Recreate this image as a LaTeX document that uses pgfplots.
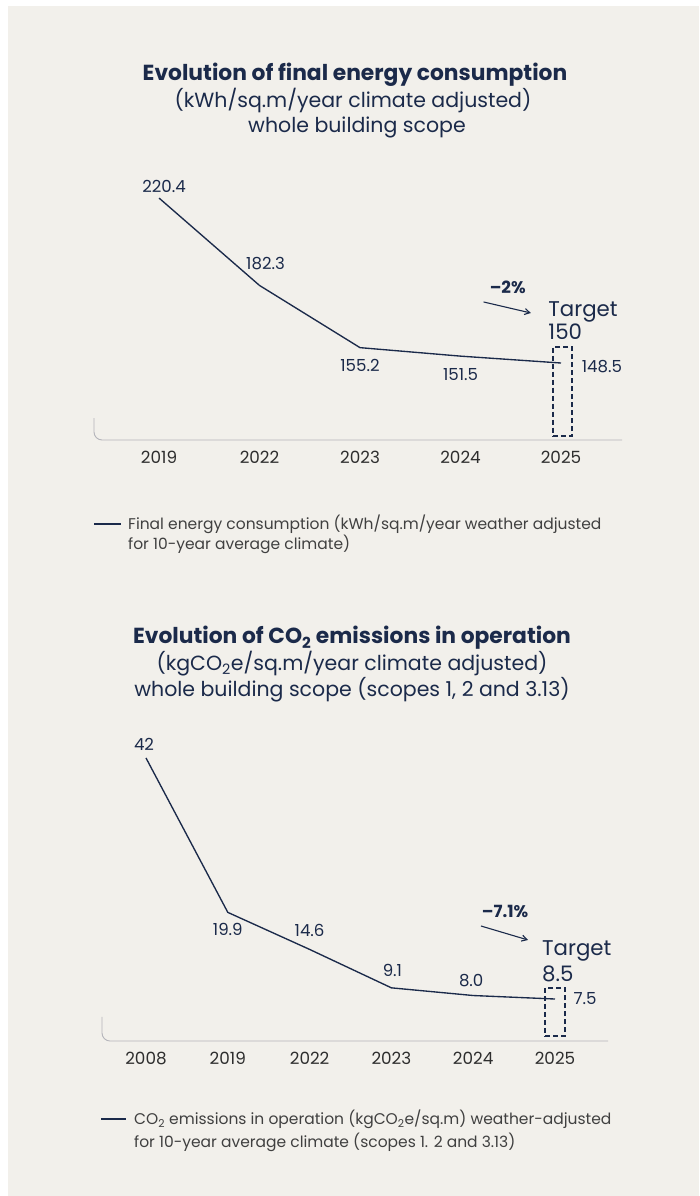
\documentclass[border=0pt]{standalone}
\usepackage{fontspec}
\setmainfont{Poppins}
\usepackage{pgfplots}
\pgfplotsset{compat=1.18}
\usetikzlibrary{arrows.meta}
\definecolor{bg}{HTML}{F2F0EB}
\definecolor{navy}{HTML}{1B2A4A}
\definecolor{ticktxt}{HTML}{2E2E2E}
\definecolor{legtxt}{HTML}{404040}
\definecolor{axgray}{HTML}{B4B4BA}
\newcommand{\fs}[1]{\fontsize{#1}{#1}\selectfont}
\begin{document}
\begin{tikzpicture}[x=1pt,y=1pt]
\fill[white] (0,0) rectangle (699,-1196);
\useasboundingbox (0,0) rectangle (699,-1196);
\fill[bg] (8,-6) rectangle (699,-1196);

% ---------- Chart 1 titles
\node[text=navy, font=\fs{21.8}\bfseries] at (355,-75) {Evolution of final energy consumption};
\node[text=navy, font=\fs{20.5}] at (353,-101) {(kWh/sq.m/year climate adjusted)};
\node[text=navy, font=\fs{20.5}] at (357,-127) {whole building scope};

\begin{axis}[at={(94pt,-440pt)}, anchor=south west, scale only axis,
  width=528pt, height=264pt,
  xmin=-0.647, xmax=4.607, ymin=114.95, ymax=230,
  axis line style={draw=none}, major tick length=0pt,
  ytick=\empty, xtick={0,1,2,3,4},
  xticklabels={2019,2022,2023,2024,2025},
  xticklabel style={font=\fs{16.8}, text=ticktxt, yshift=-8pt},
  clip=false]
\draw[axgray, line width=0.9pt, rounded corners=8pt] (rel axis cs:0,0.083) |- (rel axis cs:1,0);
\addplot[navy, line width=1.35pt] coordinates {(0,220.4) (1,182.3) (2,155.2) (3,151.5) (4,148.5)};
\addplot[navy, line width=1.2pt, dash pattern=on 5pt off 3pt] coordinates {(3.92,116.7) (4.11,116.7) (4.11,155.5) (3.92,155.5) (3.92,116.7)};
\node[text=navy, font=\fs{16.6}, xshift=5pt, yshift=12pt] at (axis cs:0,220.4) {220.4};
\node[text=navy, font=\fs{16.6}, xshift=6pt, yshift=22pt] at (axis cs:1,182.3) {182.3};
\node[text=navy, font=\fs{16.6}, yshift=-18pt] at (axis cs:2,155.2) {155.2};
\node[text=navy, font=\fs{16.6}, yshift=-18pt] at (axis cs:3,151.5) {151.5};
\node[text=navy, font=\fs{16.6}, xshift=41pt, yshift=-4pt] at (axis cs:4,148.5) {148.5};
\node[text=navy, font=\fs{21.3}, anchor=west] at (axis cs:3.84,170.7) {Target};
\node[text=navy, font=\fs{21.3}, anchor=west] at (axis cs:3.84,162.0) {150};
\node[text=navy, font=\fs{16.8}\bfseries] at (axis cs:3.47,181.6) {–2\%};
\draw[navy, line width=1.1pt, -{Straight Barb[angle=60:6pt]}] (axis cs:3.23,175.1) -- (axis cs:3.70,170.3);
\end{axis}

% legend 1
\draw[navy, line width=1.4pt] (94,-524) -- (121,-524);
\node[text=legtxt, font=\fs{15.5}, anchor=west, inner sep=0pt] at (128,-524) {Final energy consumption (kWh/sq.m/year weather adjusted};
\node[text=legtxt, font=\fs{15.5}, anchor=west, inner sep=0pt] at (128,-544) {for 10-year average climate)};

% ---------- Chart 2 titles
\node[text=navy, font=\fs{21.8}\bfseries] at (352,-638) {Evolution of CO\textsubscript{2} emissions in operation};
\node[text=navy, font=\fs{20.5}] at (352,-664) {(kgCO\textsubscript{2}e/sq.m/year climate adjusted)};
\node[text=navy, font=\fs{20.5}] at (352,-690) {whole building scope (scopes 1, 2 and 3.13)};

\begin{axis}[at={(102pt,-1041pt)}, anchor=south west, scale only axis,
  width=506pt, height=304pt,
  xmin=-0.538, xmax=5.648, ymin=1.49, ymax=45,
  axis line style={draw=none}, major tick length=0pt,
  ytick=\empty, xtick={0,1,2,3,4,5},
  xticklabels={2008,2019,2022,2023,2024,2025},
  xticklabel style={font=\fs{16.8}, text=ticktxt, yshift=-8pt},
  clip=false]
\draw[axgray, line width=0.9pt, rounded corners=8pt] (rel axis cs:0,0.079) |- (rel axis cs:1,0);
\addplot[navy, line width=1.35pt] coordinates {(0,42) (1,19.9) (2,14.6) (3,9.1) (4,8.0) (5,7.5)};
\addplot[navy, line width=1.2pt, dash pattern=on 5pt off 3pt] coordinates {(4.878,2.2) (5.122,2.2) (5.122,9.08) (4.878,9.08) (4.878,2.2)};
\node[text=navy, font=\fs{16.6}, xshift=-2pt, yshift=14pt] at (axis cs:0,42) {42};
\node[text=navy, font=\fs{16.6}, yshift=-17pt] at (axis cs:1,19.9) {19.9};
\node[text=navy, font=\fs{16.6}, yshift=19pt] at (axis cs:2,14.6) {14.6};
\node[text=navy, font=\fs{16.6}, xshift=1pt, yshift=17pt] at (axis cs:3,9.1) {9.1};
\node[text=navy, font=\fs{16.6}, xshift=-2pt, yshift=15pt] at (axis cs:4,8.0) {8.0};
\node[text=navy, font=\fs{16.6}, xshift=30pt] at (axis cs:5,7.5) {7.5};
\node[text=navy, font=\fs{21.3}, anchor=west] at (axis cs:4.80,14.37) {Target};
\node[text=navy, font=\fs{21.3}, anchor=west] at (axis cs:4.80,11.08) {8.5};
\node[text=navy, font=\fs{16.8}\bfseries] at (axis cs:4.39,20.1) {–7.1\%};
\draw[navy, line width=1.1pt, -{Straight Barb[angle=60:6pt]}] (axis cs:4.095,17.95) -- (axis cs:4.67,15.95);
\end{axis}

% legend 2
\draw[navy, line width=1.4pt] (101,-1119) -- (126,-1119);
\node[text=legtxt, font=\fs{15.5}, anchor=west, inner sep=0pt] at (134,-1119) {CO\textsubscript{2} emissions in operation (kgCO\textsubscript{2}e/sq.m) weather-adjusted};
\node[text=legtxt, font=\fs{15.5}, anchor=west, inner sep=0pt] at (134,-1142) {for 10-year average climate (scopes 1. 2 and 3.13)};
\end{tikzpicture}
\end{document}
